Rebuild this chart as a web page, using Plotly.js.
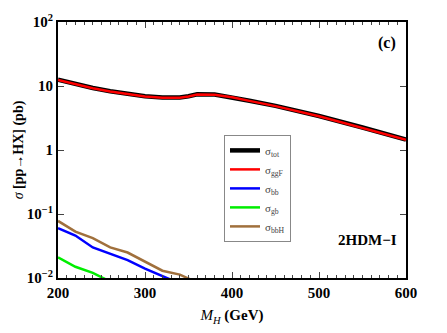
<!DOCTYPE html>
<html>
<head>
<meta charset="utf-8">
<script src="https://cdn.plot.ly/plotly-3.0.1.min.js"></script>
<style>body{margin:0;background:#fff}</style>
</head>
<body>
<div id="plotDiv" style="width:447px;height:333px"></div>
<script>
// heavy Higgs mass (GeV)
var mH = [200, 220, 240, 260, 280, 300, 320, 340, 350, 360, 380, 400, 420, 450, 500, 550, 600];
var sigTot = [12.5, 10.7, 9.3, 8.3, 7.5, 6.9, 6.6, 6.6, 6.9, 7.4, 7.35, 6.7, 5.9, 4.9, 3.4, 2.25, 1.45];
var sigGgF = [12.4, 10.6, 9.2, 8.2, 7.4, 6.85, 6.55, 6.55, 6.85, 7.35, 7.3, 6.65, 5.85, 4.85, 3.37, 2.23, 1.44];

var mLow = [200, 220, 240, 260, 280, 300, 320, 340, 360];
var sigBbH = [0.078, 0.053, 0.042, 0.030, 0.025, 0.018, 0.013, 0.0113, 0.0085];
var sigBb = [0.060, 0.046, 0.030, 0.024, 0.019, 0.014, 0.0107, 0.0082];
var mGb = [200, 220, 240, 260];
var sigGb = [0.021, 0.015, 0.012, 0.0088];

var yTicks = [0.01, 0.1, 1, 10, 100];
var yLabels = ['10<sup>\u22122</sup>', '10<sup>\u22121</sup>', '1', '10', '10<sup>2</sup>'];

var serif = 'Liberation Serif, Times New Roman, serif';

var data = [
  {x: mH, y: sigTot, name: '\u03c3<sub>tot</sub>', mode: 'lines', line: {color: 'black', width: 4.5}},
  {x: mH, y: sigGgF, name: '\u03c3<sub>ggF</sub>', mode: 'lines', line: {color: '#ff0000', width: 2.5}},
  {x: mLow, y: sigBb, name: '\u03c3<sub>bb</sub>', mode: 'lines', line: {color: '#0000ff', width: 2.5}},
  {x: mGb, y: sigGb, name: '\u03c3<sub>gb</sub>', mode: 'lines', line: {color: '#00ee00', width: 2.5}},
  {x: mLow, y: sigBbH, name: '\u03c3<sub>bbH</sub>', mode: 'lines', line: {color: '#a0703c', width: 2.5}}
];

var layout = {
  width: 447,
  height: 333,
  margin: {l: 58, r: 41, t: 22, b: 55},
  paper_bgcolor: 'white',
  plot_bgcolor: 'white',
  font: {family: serif, color: 'black'},
  showlegend: true,
  legend: {
    x: 0.477, y: 0.559, xanchor: 'left', yanchor: 'top',
    bordercolor: '#888', borderwidth: 1, bgcolor: 'white',
    font: {family: serif, size: 11, color: '#444'},
    itemwidth: 30
  },
  xaxis: {
    range: [200, 600],
    dtick: 100,
    ticks: 'inside', ticklen: 6, tickwidth: 1.2,
    minor: {dtick: 10, ticks: 'inside', ticklen: 3, tickwidth: 1},
    showline: true, linewidth: 1.8, linecolor: 'black', mirror: 'ticks',
    showgrid: false, zeroline: false,
    tickfont: {family: serif, size: 15, color: 'black', weight: 'bold'},
    title: {text: '<i>M<sub>H</sub></i> <b>(GeV)</b>', font: {family: serif, size: 15}, standoff: 10}
  },
  yaxis: {
    type: 'log',
    range: [-2, 2],
    tickvals: yTicks, ticktext: yLabels,
    ticks: 'inside', ticklen: 6, tickwidth: 1.2,
    showline: true, linewidth: 1.8, linecolor: 'black', mirror: 'ticks',
    showgrid: false, zeroline: false,
    tickfont: {family: serif, size: 15, color: 'black', weight: 'bold'},
    title: {text: '<i>\u03c3</i><b> [pp\u2192HX] (pb)</b>', font: {family: serif, size: 14}, standoff: 0}
  },
  annotations: [
    {text: '<b>(c)</b>', x: 0.945, y: 0.918, xref: 'paper', yref: 'paper', xanchor: 'center', yanchor: 'middle',
     showarrow: false, font: {family: serif, size: 16, color: 'black'}},
    {text: '<b>2HDM\u2212I</b>', x: 0.888, y: 0.148, xref: 'paper', yref: 'paper', xanchor: 'center', yanchor: 'middle',
     showarrow: false, font: {family: serif, size: 15, color: 'black'}}
  ]
};

Plotly.newPlot('plotDiv', data, layout, {displayModeBar: false});
</script>
</body>
</html>
